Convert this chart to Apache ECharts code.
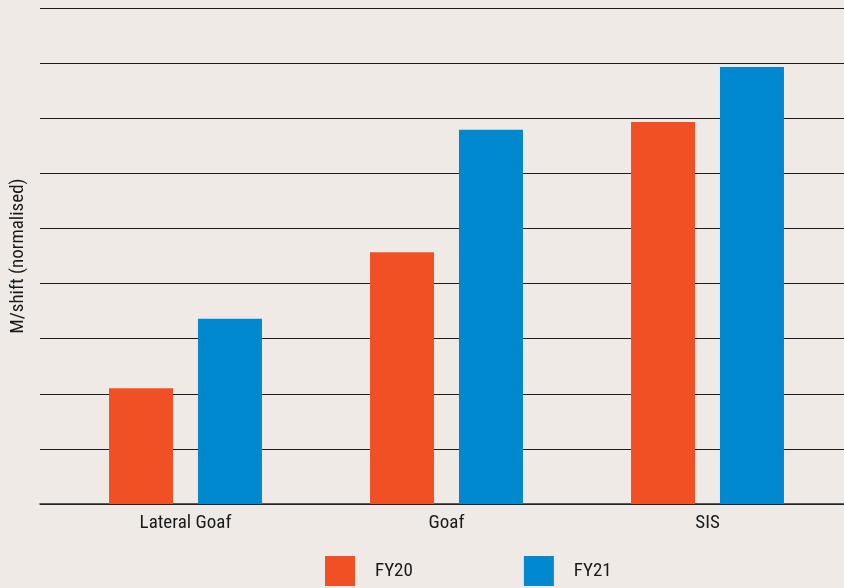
<!DOCTYPE html>
<html>
<head>
<meta charset="utf-8">
<script src="https://cdn.jsdelivr.net/npm/echarts@6/dist/echarts.min.js"></script>
<style>
html,body{margin:0;padding:0;background:#efeae6;}
#chart{width:844px;height:588px;}
</style>
</head>
<body>
<div id="chart"></div>
<script>
const categories = ['Lateral Goaf', 'Goaf', 'SIS'];
const fy20 = [2.1, 4.57, 6.93];
const fy21 = [3.36, 6.79, 7.93];
const seriesNames = ['FY20', 'FY21'];
const yAxisName = 'M/shift (normalised)';

const FONT = '"Roboto Condensed", "Liberation Sans Narrow", "Liberation Sans", Arial, sans-serif';
const chart = echarts.init(document.getElementById('chart'), null, {renderer: 'canvas'});
chart.setOption({
  backgroundColor: '#efeae6',
  animation: false,
  grid: [
    {left: 40, right: 0, top: 8, bottom: 84, outerBoundsMode: 'none', containLabel: false},
    {left: 55, right: 6, top: 8, bottom: 84, outerBoundsMode: 'none', containLabel: false}
  ],
  legend: {
    data: seriesNames,
    top: 551,
    left: 320,
    itemWidth: 30,
    itemHeight: 30,
    itemGap: 111,
    icon: 'rect',
    textStyle: {fontFamily: FONT, fontSize: 19, color: '#1a1a1a', padding: [0, 0, 0, 15]}
  },
  xAxis: [
    {type: 'category', gridIndex: 0, data: categories, show: true,
      axisLine: {show: true, lineStyle: {color: '#2a2a2a', width: 1.5}},
      axisTick: {show: false}, axisLabel: {show: false}},
    {type: 'category', gridIndex: 1, data: categories,
      axisLine: {show: false}, axisTick: {show: false},
      axisLabel: {fontFamily: FONT, fontSize: 19, color: '#1a1a1a', margin: 10}}
  ],
  yAxis: [
    {type: 'value', gridIndex: 0, min: 0, max: 9, interval: 1,
      name: yAxisName, nameLocation: 'middle', nameGap: 12,
      nameTextStyle: {fontFamily: FONT, fontSize: 19, color: '#1a1a1a'},
      axisLine: {show: false}, axisTick: {show: false}, axisLabel: {show: false},
      splitLine: {show: true, lineStyle: {color: '#1c1c1c', width: 1}}},
    {type: 'value', gridIndex: 1, min: 0, max: 9, interval: 1, show: false,
      splitLine: {show: false}}
  ],
  series: [
    {name: seriesNames[0], type: 'bar', xAxisIndex: 1, yAxisIndex: 1, data: fy20,
      barWidth: 64, barGap: '39%', itemStyle: {color: '#f05023'}},
    {name: seriesNames[1], type: 'bar', xAxisIndex: 1, yAxisIndex: 1, data: fy21,
      barWidth: 64, barGap: '39%', itemStyle: {color: '#0088cf'}}
  ]
});
</script>
</body>
</html>
